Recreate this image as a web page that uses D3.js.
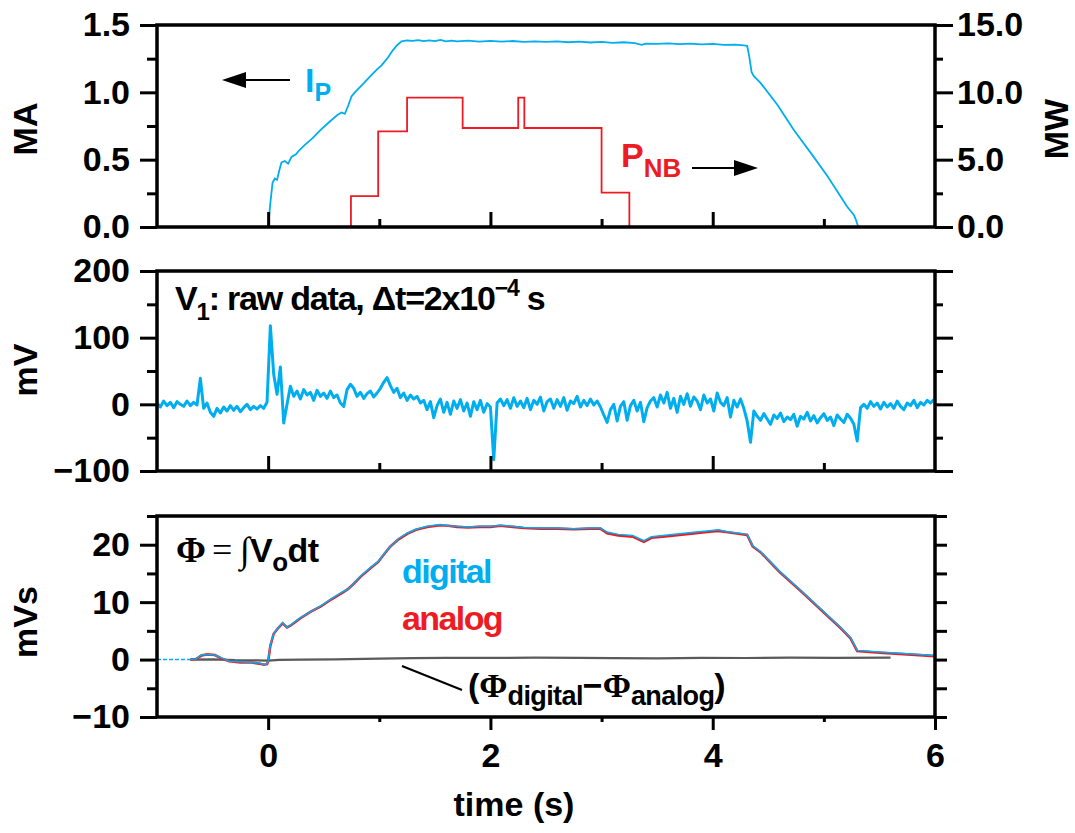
<!DOCTYPE html>
<html>
<head>
<meta charset="utf-8">
<script src="https://cdn.jsdelivr.net/npm/d3@7"></script>
<style>
  html, body { margin: 0; padding: 0; background: #fff; }
  svg text { font-family: "Liberation Sans", Arial, sans-serif; font-weight: bold; }
</style>
</head>
<body>
<div id="chart"></div>
<script>
"use strict"

// shared time axis (s)
const timeTicks = [0, 2, 4, 6];
const timeMinorTicks = [1, 3, 5];

// top panel: plasma current (MA, left) and beam power (MW, right)
const ipTicks = [0.0, 0.5, 1.0, 1.5];
const ipMinorTicks = [0.25, 0.75, 1.25];
const pnbTicks = [0, 5, 10, 15];
const pnbMinorTicks = [2.5, 7.5, 12.5];

const ipData = [
  [0.00, 0.00], [0.02, 0.18], [0.04, 0.33], [0.06, 0.36], [0.08, 0.35], [0.10, 0.42],
  [0.12, 0.48], [0.15, 0.49], [0.18, 0.47], [0.21, 0.52], [0.25, 0.54], [0.28, 0.57],
  [0.33, 0.61], [0.40, 0.66], [0.47, 0.72], [0.55, 0.78], [0.62, 0.83], [0.66, 0.85],
  [0.69, 0.84], [0.72, 0.90], [0.75, 0.97], [0.78, 1.00], [0.85, 1.06], [0.92, 1.12],
  [0.98, 1.17], [1.02, 1.20], [1.05, 1.23], [1.08, 1.26], [1.12, 1.31], [1.16, 1.35],
  [1.20, 1.378], [1.25, 1.385], [1.30, 1.382], [1.35, 1.388], [1.40, 1.380], [1.45, 1.386],
  [1.50, 1.381], [1.55, 1.389], [1.60, 1.379], [1.65, 1.384], [1.70, 1.378], [1.80, 1.384],
  [1.90, 1.377], [2.00, 1.382], [2.10, 1.376], [2.20, 1.381], [2.30, 1.375], [2.40, 1.379],
  [2.50, 1.374], [2.60, 1.378], [2.70, 1.372], [2.80, 1.376], [2.90, 1.370], [3.00, 1.374],
  [3.10, 1.368], [3.20, 1.372], [3.30, 1.366], [3.36, 1.352], [3.40, 1.362], [3.50, 1.360],
  [3.60, 1.364], [3.70, 1.358], [3.80, 1.362], [3.90, 1.356], [4.00, 1.360], [4.10, 1.352],
  [4.20, 1.355], [4.28, 1.348], [4.31, 1.345], [4.33, 1.26], [4.35, 1.15], [4.37, 1.12],
  [4.43, 1.07], [4.58, 0.91], [4.73, 0.72], [4.90, 0.53], [5.03, 0.38], [5.21, 0.15],
  [5.27, 0.09], [5.29, 0.05], [5.31, 0.00]
];

// neutral beam power, step levels (MW)
const pnbSteps = [
  [0.745, 0], [0.745, 2.3], [0.99, 7.1], [1.25, 9.6], [1.75, 7.35], [2.25, 9.6],
  [2.305, 7.35], [3.00, 2.55], [3.25, 0], [3.25, 0]
];

// middle panel: raw loop voltage V1 (mV), sampled every v1Dt from v1Start
const v1Ticks = [-100, 0, 100, 200];
const v1MinorTicks = [-50, 50, 150];
const v1Start = -1.0;
const v1Dt = 0.03;
const v1Values = [
  2, -4, 5, -2, 3, -5, 4, 0, -3, 5,
  -2, 3, -1, 39, -6, 2, -12, -18, -6, -13,
  -4, -10, -2, -9, -3, -11, -5, 0, -8, -3,
  -7, -2, -6, 3, 118, 45, 15, 56, -28, 0,
  27, 12, 20, 8, 22, 14, 18, 6, 21, 12,
  17, 9, 20, 10, 14, 2, -3, 22, 30, 24,
  12, 18, 9, 16, 20, 11, 17, 24, 33, 40,
  28, 18, 24, 10, 17, 6, 14, 8, 12, 2,
  6, -8, 4, -20, -2, 8, -12, 3, -15, 5,
  -6, 7, -10, 2, -18, 4, -8, 6, -12, 1,
  -4, -83, 2, 8, -2, 7, -6, 10, -3, 5,
  -5, 9, -8, 6, 0, 11, -10, 4, 8, -6,
  7, -3, 10, -9, 5, 1, 12, -4, 6, -2,
  8, -1, 5, -4, -16, -27, -8, 0, -25, -3,
  4, -24, -2, 6, -10, 3, -26, -5, 5, 10,
  -4, 14, 2, 18, -6, 9, -12, 12, 0, 16,
  -3, 11, 5, -8, 14, 2, 8, -10, 17, 3,
  -2, 10, -19, 6, -4, 8, -6, -25, -57, -10,
  -18, -24, -14, -22, -30, -16, -21, -13, -26, -19,
  -23, -15, -33, -18, -22, -12, -25, -17, -28, -20,
  -14, -24, -19, -32, -16, -22, -27, -15, -21, -30,
  -55, -5, 0, -6, 4, -3, 2, -7, 3, -4,
  1, -6, 5, -3, -8, 2, -2, 6, -5, 3,
  -1, 6, 2, 7
];

// bottom panel: integrated flux (mVs)
const phiTicks = [-10, 0, 10, 20];
const phiMinorTicks = [-5, 5, 15, 25];
const phiT = [
  -1.00, -0.70, -0.65, -0.60, -0.55, -0.48, -0.42, -0.35, -0.25, -0.15,
  -0.08, -0.04, -0.01, 0.00, 0.02, 0.05, 0.09, 0.13, 0.17, 0.20,
  0.29, 0.38, 0.47, 0.57, 0.68, 0.72, 0.77, 0.83, 0.92, 0.99,
  1.05, 1.10, 1.17, 1.25, 1.33, 1.43, 1.55, 1.62, 1.70, 1.80,
  1.90, 2.00, 2.09, 2.20, 2.30, 2.45, 2.60, 2.75, 2.90, 2.99,
  3.05, 3.15, 3.28, 3.38, 3.45, 3.55, 3.70, 3.85, 3.95, 4.05,
  4.12, 4.20, 4.31, 4.36, 4.43, 4.60, 4.80, 5.00, 5.15, 5.24,
  5.30, 5.50, 5.75, 6.00
];
const phiDigital = [
  0, 0, 0.1, 0.8, 0.9, 0.8, 0.3, -0.3, -0.4, -0.5,
  -0.6, -0.9, -0.7, -0.2, 2.5, 4.6, 5.5, 6.4, 5.6, 6.0,
  7.3, 8.3, 9.3, 10.6, 11.9, 12.3, 13.3, 14.5, 16.0, 17.1,
  18.6, 19.7, 21.0, 22.0, 22.7, 23.2, 23.5, 23.3, 23.2, 23.1,
  23.2, 23.2, 23.4, 23.2, 23.0, 22.9, 22.9, 22.8, 22.9, 22.9,
  22.2, 21.8, 21.6, 20.7, 21.4, 21.6, 21.9, 22.2, 22.4, 22.6,
  22.3, 22.1, 21.8, 19.8, 18.8, 15.4, 11.9, 8.3, 5.6, 3.8,
  1.6, 1.3, 1.0, 0.7
];
const phiAnalog = [
  null, 0, 0.1, 0.7, 0.9, 0.8, 0.2, -0.3, -0.5, -0.5,
  -0.7, -0.9, -0.8, -0.3, 2.4, 4.5, 5.5, 6.3, 5.6, 5.9,
  7.2, 8.3, 9.2, 10.5, 11.8, 12.3, 13.2, 14.4, 15.9, 17.0,
  18.5, 19.7, 20.9, 21.9, 22.6, 23.1, 23.4, 23.3, 23.1, 23.0,
  23.1, 23.1, 23.3, 23.1, 22.9, 22.8, 22.8, 22.7, 22.8, 22.8,
  22.0, 21.6, 21.4, 20.5, 21.2, 21.4, 21.7, 22.0, 22.2, 22.4,
  22.2, 22.0, 21.7, 19.7, 18.7, 15.3, 11.8, 8.2, 5.5, 3.7,
  1.5, 1.2, 0.9, 0.6
];
const phiDiff = [
  [-0.70, 0.00], [-0.50, 0.05], [-0.30, -0.10], [-0.10, -0.15], [0.00, -0.20], [0.10, -0.05],
  [0.30, 0.00], [0.60, 0.05], [1.00, 0.15], [1.30, 0.25], [1.60, 0.30], [2.00, 0.28],
  [2.40, 0.33], [2.80, 0.30], [3.10, 0.25], [3.50, 0.22], [3.90, 0.30], [4.30, 0.27],
  [4.70, 0.33], [5.10, 0.30], [5.60, 0.35]
];

const CYAN = "#00aeef";
const RED = "#ed1c24";

const width = 1075, height = 833;
const svg = d3.select("#chart").append("svg")
  .attr("width", width).attr("height", height);

const x = d3.scaleLinear().domain([-1, 6]).range([157, 935]);
const yIp = d3.scaleLinear().domain([0, 1.5]).range([227, 25]);
const yPnb = d3.scaleLinear().domain([0, 15]).range([227, 25]);
const yV1 = d3.scaleLinear().domain([-100, 200]).range([471, 271]);
const yPhi = d3.scaleLinear().domain([-10, 25]).range([717, 516]);

function styleAxis(g) {
  g.select(".domain").remove();
  g.selectAll(".tick line").attr("stroke", "#000").attr("stroke-width", 3);
  g.selectAll(".tick text").attr("fill", "#000")
    .style("font-size", "34px").style("font-weight", "bold")
    .style("font-family", '"Liberation Sans", Arial, sans-serif');
}

function leftAxis(y, major, minor, fmt) {
  svg.append("g").attr("transform", `translate(${x.range()[0]},0)`)
    .call(d3.axisLeft(y).tickValues(minor).tickSize(10).tickFormat(""))
    .call(styleAxis);
  svg.append("g").attr("transform", `translate(${x.range()[0]},0)`)
    .call(d3.axisLeft(y).tickValues(major).tickSize(17).tickPadding(10).tickFormat(fmt))
    .call(styleAxis);
}

function rightAxis(y, major, minor, fmt, majorLen, minorLen) {
  svg.append("g").attr("transform", `translate(${x.range()[1]},0)`)
    .call(d3.axisRight(y).tickValues(minor).tickSize(minorLen).tickFormat(""))
    .call(styleAxis);
  svg.append("g").attr("transform", `translate(${x.range()[1]},0)`)
    .call(d3.axisRight(y).tickValues(major).tickSize(majorLen).tickPadding(4).tickFormat(fmt || ""))
    .call(styleAxis);
}

function innerTimeAxis(y) {
  let y0 = y.range()[0];
  svg.append("g").attr("transform", `translate(0,${y0})`)
    .call(d3.axisTop(x).tickValues(timeMinorTicks).tickSize(8).tickFormat(""))
    .call(styleAxis);
  svg.append("g").attr("transform", `translate(0,${y0})`)
    .call(d3.axisTop(x).tickValues([0, 2, 4]).tickSize(15).tickFormat(""))
    .call(styleAxis);
}

function frame(y) {
  svg.append("rect")
    .attr("x", x.range()[0]).attr("y", y.range()[1])
    .attr("width", x.range()[1] - x.range()[0])
    .attr("height", y.range()[0] - y.range()[1])
    .attr("fill", "none").attr("stroke", "#000").attr("stroke-width", 3.5);
}

function clip(id, y) {
  svg.append("clipPath").attr("id", id).append("rect")
    .attr("x", x.range()[0]).attr("y", y.range()[1])
    .attr("width", x.range()[1] - x.range()[0])
    .attr("height", y.range()[0] - y.range()[1]);
}

function rotLabel(px, py, txt) {
  svg.append("text")
    .attr("transform", `translate(${px},${py}) rotate(-90)`)
    .attr("text-anchor", "middle")
    .style("font-size", "34px")
    .text(txt);
}

// ---- Top panel
clip("clipTop", yIp);
const topG = svg.append("g").attr("clip-path", "url(#clipTop)");
topG.append("path")
  .datum(pnbSteps)
  .attr("fill", "none").attr("stroke", RED).attr("stroke-width", 1.8)
  .attr("d", d3.line().curve(d3.curveStepAfter).x((d) => x(d[0])).y((d) => yPnb(d[1])));
topG.append("path")
  .datum(ipData)
  .attr("fill", "none").attr("stroke", CYAN).attr("stroke-width", 1.8)
  .attr("d", d3.line().x((d) => x(d[0])).y((d) => yIp(d[1])));

frame(yIp);
leftAxis(yIp, ipTicks, ipMinorTicks, d3.format(".1f"));
rightAxis(yPnb, pnbTicks, pnbMinorTicks, d3.format(".1f"), 18, 8);
innerTimeAxis(yIp);
rotLabel(37, 129, "MA");
rotLabel(1068, 129, "MW");

// I_P label and arrow
let ipLabel = svg.append("text").attr("x", 305).attr("y", 92)
  .attr("fill", CYAN).style("font-size", "34px");
ipLabel.append("tspan").text("I");
ipLabel.append("tspan").attr("dy", 9).style("font-size", "25px").text("P");
svg.append("line").attr("x1", 290).attr("y1", 80).attr("x2", 243).attr("y2", 80)
  .attr("stroke", "#000").attr("stroke-width", 2);
svg.append("path").attr("d", "M222,80 L246,72 L246,88 Z").attr("fill", "#000");

// P_NB label and arrow
let pnbLabel = svg.append("text").attr("x", 621).attr("y", 167)
  .attr("fill", RED).style("font-size", "34px");
pnbLabel.append("tspan").text("P");
pnbLabel.append("tspan").attr("dy", 10).style("font-size", "26px").text("NB");
svg.append("line").attr("x1", 692).attr("y1", 168).attr("x2", 737).attr("y2", 168)
  .attr("stroke", "#000").attr("stroke-width", 2);
svg.append("path").attr("d", "M758,168 L734,160 L734,176 Z").attr("fill", "#000");

// ---- Middle panel
clip("clipMid", yV1);
const midG = svg.append("g").attr("clip-path", "url(#clipMid)");
midG.append("path")
  .datum(v1Values)
  .attr("fill", "none").attr("stroke", CYAN).attr("stroke-width", 3)
  .attr("stroke-linejoin", "round")
  .attr("d", d3.line().x((d, i) => x(v1Start + i * v1Dt)).y((d) => yV1(d)));

frame(yV1);
leftAxis(yV1, v1Ticks, v1MinorTicks, d3.format("d"));
rightAxis(yV1, v1Ticks, v1MinorTicks, null, 18, 8);
innerTimeAxis(yV1);
rotLabel(37, 370, "mV");

let v1Label = svg.append("text").attr("x", 175).attr("y", 310)
  .style("font-size", "34px").style("letter-spacing", "-1.2px");
v1Label.append("tspan").text("V");
v1Label.append("tspan").attr("dy", 10).style("font-size", "24px").text("1");
v1Label.append("tspan").attr("dy", -10).text(": raw data, \u0394t=2x10");
v1Label.append("tspan").attr("dy", -14).style("font-size", "23px").text("\u22124");
v1Label.append("tspan").attr("dy", 14).text(" s");

// ---- Bottom panel
clip("clipBot", yPhi);
const botG = svg.append("g").attr("clip-path", "url(#clipBot)");
const phiRows = phiT.map((t, i) => ({t: t, dig: phiDigital[i], ana: phiAnalog[i]}));

botG.append("path")
  .datum(phiDiff)
  .attr("fill", "none").attr("stroke", "#5a5a5a").attr("stroke-width", 2.2)
  .attr("d", d3.line().x((d) => x(d[0])).y((d) => yPhi(d[1])));
botG.append("path")
  .datum(phiRows)
  .attr("fill", "none").attr("stroke", RED).attr("stroke-width", 2.6)
  .attr("d", d3.line().defined((d) => d.ana !== null).x((d) => x(d.t)).y((d) => yPhi(d.ana)));
botG.append("path")
  .datum(phiRows.filter((d) => d.t <= -0.7))
  .attr("fill", "none").attr("stroke", CYAN).attr("stroke-width", 1.6)
  .attr("stroke-dasharray", "4,2")
  .attr("d", d3.line().x((d) => x(d.t)).y((d) => yPhi(d.dig)));
botG.append("path")
  .datum(phiRows.filter((d) => d.t >= -0.7))
  .attr("fill", "none").attr("stroke", CYAN).attr("stroke-width", 1.5)
  .attr("d", d3.line().x((d) => x(d.t)).y((d) => yPhi(d.dig)));

frame(yPhi);
leftAxis(yPhi, phiTicks, phiMinorTicks, d3.format("d"));
rightAxis(yPhi, phiTicks, phiMinorTicks, null, 12, 12);
rotLabel(37, 622, "mVs");

// outward time axis under the bottom panel
let yb = yPhi.range()[0];
svg.append("g").attr("transform", `translate(0,${yb})`)
  .call(d3.axisBottom(x).tickValues(timeMinorTicks).tickSize(5).tickFormat(""))
  .call(styleAxis);
svg.append("g").attr("transform", `translate(0,${yb})`)
  .call(d3.axisBottom(x).tickValues(timeTicks).tickSize(13).tickPadding(13).tickFormat(d3.format("d")))
  .call(styleAxis);
svg.append("text").attr("x", 514).attr("y", 816).attr("text-anchor", "middle")
  .style("font-size", "34px").text("time (s)");

// flux formula
const SERIF = '"Liberation Serif", "Times New Roman", serif';
svg.append("text").attr("x", 176).attr("y", 562).style("font-family", SERIF)
  .style("font-size", "36px").text("\u03A6");
svg.append("text").attr("x", 212).attr("y", 562).style("font-family", SERIF)
  .style("font-size", "36px").style("font-weight", "normal").text("=");
svg.append("text").attr("x", 240).attr("y", 562).style("font-family", SERIF)
  .style("font-size", "36px").style("font-weight", "normal").text("\u222B");
let fluxV = svg.append("text").attr("x", 250).attr("y", 562).style("font-size", "34px")
  .style("letter-spacing", "-0.5px");
fluxV.append("tspan").text("V");
fluxV.append("tspan").attr("dy", 9).style("font-size", "26px").text("o");
fluxV.append("tspan").attr("dy", -9).text("dt");

svg.append("text").attr("x", 402).attr("y", 583).attr("fill", CYAN)
  .style("font-size", "34px").style("letter-spacing", "-1.6px").text("digital");
svg.append("text").attr("x", 402).attr("y", 630).attr("fill", RED)
  .style("font-size", "34px").style("letter-spacing", "-1.6px").text("analog");

// difference label with leader
svg.append("line").attr("x1", 402).attr("y1", 666).attr("x2", 462).attr("y2", 690)
  .attr("stroke", "#000").attr("stroke-width", 2);
let diffLabel = svg.append("text").attr("x", 468).attr("y", 697).style("font-size", "34px");
diffLabel.append("tspan").text("(");
diffLabel.append("tspan").style("font-family", SERIF).text("\u03A6");
diffLabel.append("tspan").attr("dy", 8).style("font-size", "27px").style("letter-spacing", "-0.6px").text("digital");
diffLabel.append("tspan").attr("dy", -8).text("\u2212");
diffLabel.append("tspan").style("font-family", SERIF).text("\u03A6");
diffLabel.append("tspan").attr("dy", 8).style("font-size", "27px").style("letter-spacing", "-0.6px").text("analog");
diffLabel.append("tspan").attr("dy", -8).text(")");
</script>
</body>
</html>
